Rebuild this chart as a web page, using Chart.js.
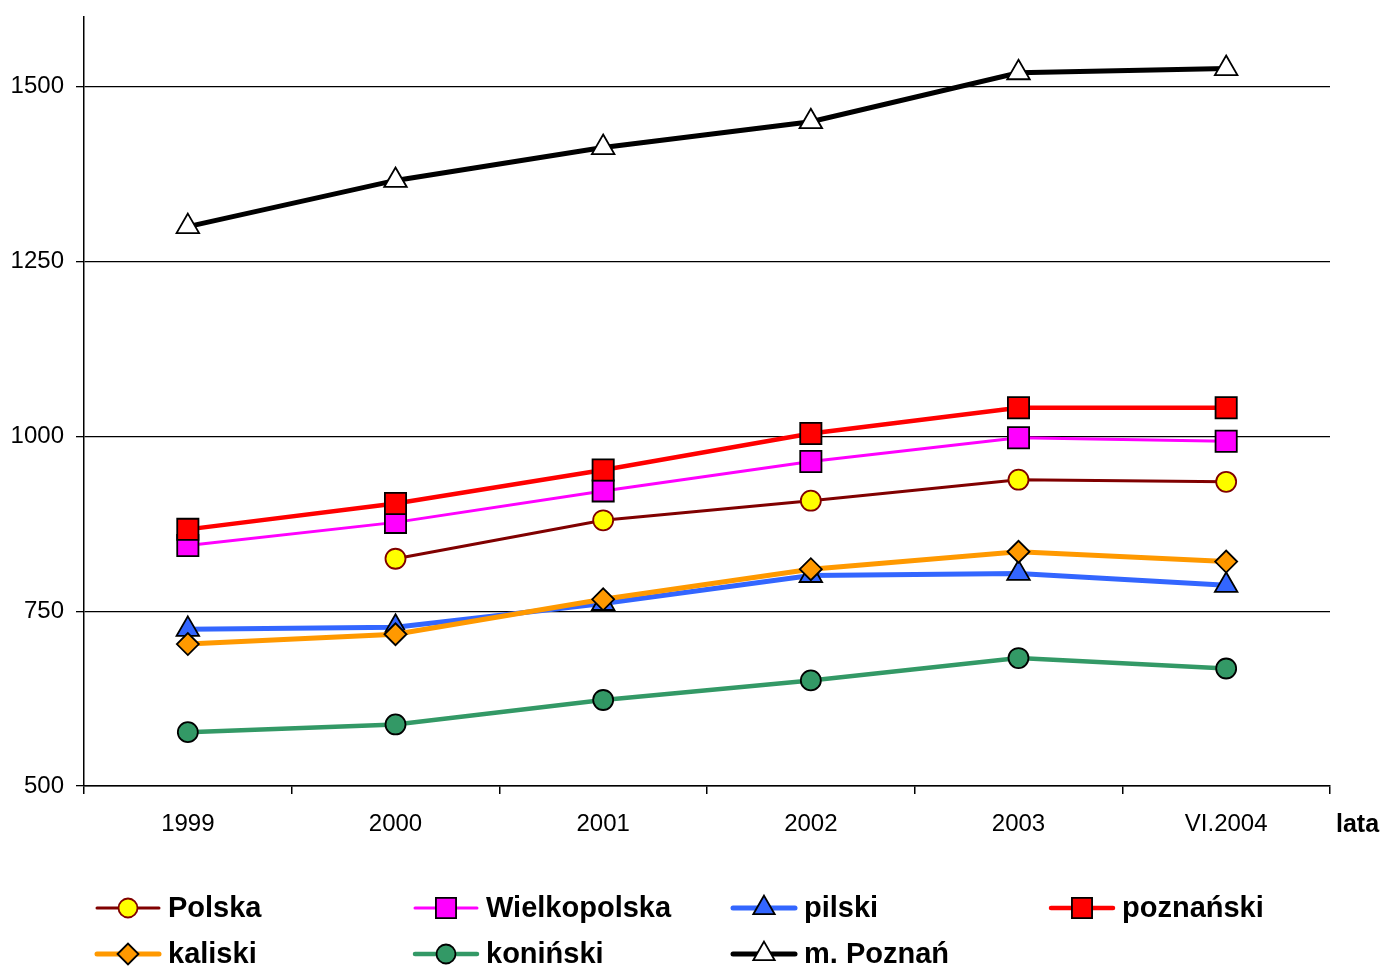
<!DOCTYPE html>
<html>
<head>
<meta charset="utf-8">
<script src="https://cdn.jsdelivr.net/npm/chart.js@4"></script>
<style>
  html, body { margin: 0; padding: 0; background: #fff; }
  #wrap { width: 1386px; height: 967px; }
</style>
</head>
<body>
<div id="wrap"><canvas id="chart" width="1386" height="967"></canvas></div>
<script>
const years = ['1999', '2000', '2001', '2002', '2003', 'VI.2004'];
const yTicks = [500, 750, 1000, 1250, 1500];

const polska = [null, 825, 880, 908, 938, 935];
const wielkopolska = [844, 877, 922, 964, 998, 993];
const pilski = [724, 727, 761, 801, 804, 787];
const poznanski = [867, 904, 952, 1004, 1041, 1041];
const kaliski = [703, 717, 767, 810, 835, 821];
const koninski = [577, 588, 623, 651, 683, 668];
const mPoznan = [1300, 1366, 1413, 1450, 1520, 1526];

function ds(label, data, color, width, style, fill, border, radius, order) {
  return {
    label: label,
    data: data,
    borderColor: color,
    borderWidth: width,
    pointStyle: style,
    pointBackgroundColor: fill,
    pointBorderColor: border,
    pointBorderWidth: 1.8,
    pointRadius: radius,
    pointHoverRadius: radius,
    tension: 0,
    spanGaps: false,
    order: order
  };
}

// later series drawn on top, like the original spreadsheet
const datasets = [
  ds('Polska', polska, '#800000', 3, 'circle', '#ffff00', '#800000', 10, 7),
  ds('Wielkopolska', wielkopolska, '#ff00ff', 3, 'rect', '#ff00ff', '#000', 15, 6),
  ds('pilski', pilski, '#3366ff', 5, 'triangle', '#3366ff', '#000', 13, 5),
  ds('poznański', poznanski, '#ff0000', 4.5, 'rect', '#ff0000', '#000', 15, 4),
  ds('kaliski', kaliski, '#ff9900', 5, 'rectRot', '#ff9900', '#000', 11, 3),
  ds('koniński', koninski, '#339966', 4.5, 'circle', '#339966', '#000', 10, 2),
  ds('m. Poznań', mPoznan, '#000000', 5, 'triangle', '#ffffff', '#000', 13, 1)
];

function marker(ctx, style, x, y, r, fill, border) {
  ctx.save();
  ctx.fillStyle = fill;
  ctx.strokeStyle = border;
  ctx.lineWidth = 1.8;
  ctx.beginPath();
  if (style === 'circle') {
    ctx.arc(x, y, r, 0, Math.PI * 2);
  } else if (style === 'rect') {
    const s = r * Math.SQRT1_2;
    ctx.rect(x - s, y - s, 2 * s, 2 * s);
  } else if (style === 'rectRot') {
    ctx.moveTo(x - r, y); ctx.lineTo(x, y - r); ctx.lineTo(x + r, y); ctx.lineTo(x, y + r);
    ctx.closePath();
  } else if (style === 'triangle') {
    const h = r * Math.sqrt(3) / 2;
    ctx.moveTo(x, y - r);
    ctx.lineTo(x + h, y + r / 2);
    ctx.lineTo(x - h, y + r / 2);
    ctx.closePath();
  }
  ctx.fill();
  ctx.stroke();
  ctx.restore();
}

const extras = {
  id: 'extras',
  afterDraw(chart) {
    const ctx = chart.ctx;
    ctx.save();
    // axis title
    ctx.fillStyle = '#000';
    ctx.font = 'bold 25px "Liberation Sans", Arial, sans-serif';
    ctx.textBaseline = 'middle';
    ctx.textAlign = 'left';
    ctx.fillText('lata', 1336, 825);
    // legend
    ctx.font = 'bold 29px "Liberation Sans", Arial, sans-serif';
    chart.data.datasets.forEach((d, i) => {
      const x0 = 97 + (i % 4) * 318;
      const y = 908 + Math.floor(i / 4) * 46;
      ctx.strokeStyle = d.borderColor;
      ctx.lineWidth = d.borderWidth;
      ctx.lineCap = 'round';
      ctx.beginPath();
      ctx.moveTo(x0, y);
      ctx.lineTo(x0 + 62, y);
      ctx.stroke();
      marker(ctx, d.pointStyle, x0 + 31, y, d.pointRadius * 0.95, d.pointBackgroundColor, d.pointBorderColor);
      ctx.fillStyle = '#000';
      ctx.fillText(d.label, x0 + 71, y + 1);
    });
    ctx.restore();
  }
};

new Chart(document.getElementById('chart'), {
  type: 'line',
  data: { labels: years, datasets: datasets },
  options: {
    responsive: false,
    animation: false,
    events: [],
    layout: { padding: { top: 15, right: 56, left: 0, bottom: 0 } },
    plugins: { legend: { display: false }, tooltip: { enabled: false } },
    scales: {
      x: {
        offset: true,
        afterFit(scale) { scale.height = 181; },
        grid: { offset: true, drawOnChartArea: false, drawTicks: true, tickLength: 8, color: '#000', lineWidth: 1.5 },
        border: { color: '#000', width: 1.5 },
        ticks: { color: '#000', font: { size: 24, family: '"Liberation Sans", Arial, sans-serif' }, padding: 16, maxRotation: 0 }
      },
      y: {
        min: 500,
        max: 1600,
        afterFit(scale) { scale.width = 84; scale.paddingTop = 0; scale.paddingBottom = 0; },
        afterBuildTicks(scale) { scale.ticks = yTicks.map(v => ({ value: v })); },
        grid: { color: '#000', lineWidth: 1.3, tickLength: 8 },
        border: { color: '#000', width: 1.5 },
        ticks: {
          color: '#000',
          font: { size: 24, family: '"Liberation Sans", Arial, sans-serif' },
          padding: 12,
          callback: v => String(v)
        }
      }
    }
  },
  plugins: [extras]
});
</script>
</body>
</html>
